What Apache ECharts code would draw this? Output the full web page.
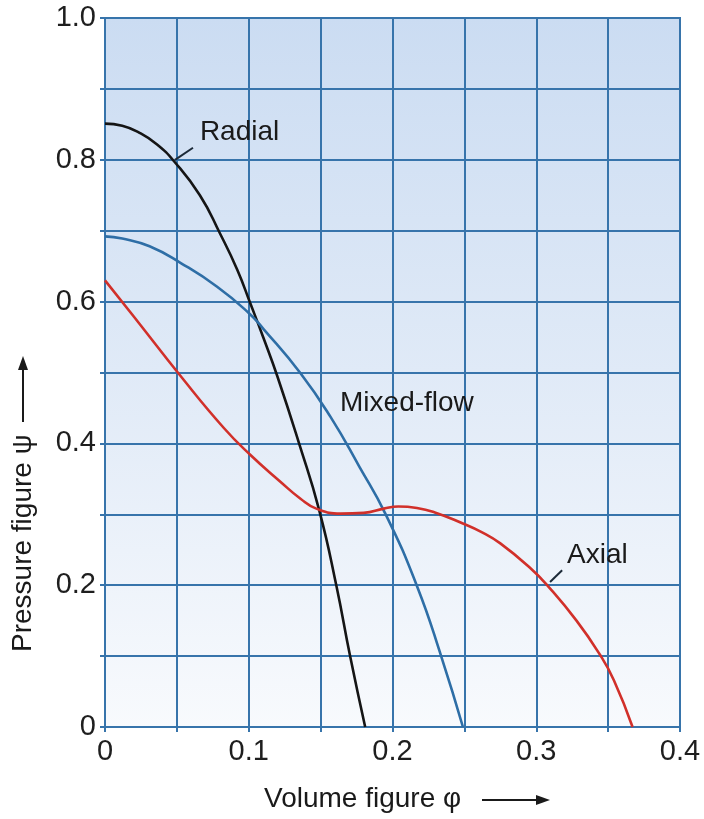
<!DOCTYPE html>
<html>
<head>
<meta charset="utf-8">
<script src="https://cdn.jsdelivr.net/npm/echarts@6/dist/echarts.min.js"></script>
<style>
  html, body { margin: 0; padding: 0; background: #ffffff; }
  #chart { width: 704px; height: 819px; }
</style>
</head>
<body>
<div id="chart"></div>
<script>
// tick labels
const xTickLabels = ['0', '0.1', '0.2', '0.3', '0.4'];
const yTickLabels = ['0', '0.2', '0.4', '0.6', '0.8', '1.0'];

// Radial curve (volume figure, pressure figure)
const radialX = [0, 0.012, 0.024, 0.036, 0.048, 0.066, 0.08, 0.092, 0.101, 0.11, 0.12, 0.135, 0.149, 0.161, 0.1705, 0.181];
const radialY = [0.851, 0.848, 0.838, 0.822, 0.798, 0.75, 0.696, 0.645, 0.598, 0.55, 0.494, 0.4, 0.306, 0.199, 0.1, 0];

// Mixed-flow curve
const mixedX = [0, 0.012, 0.031, 0.053, 0.078, 0.1, 0.11, 0.136, 0.157, 0.177, 0.195, 0.217, 0.234, 0.249];
const mixedY = [0.692, 0.689, 0.678, 0.654, 0.621, 0.584, 0.562, 0.499, 0.437, 0.367, 0.301, 0.199, 0.099, 0];

// Axial curve
const axialX = [0, 0.02, 0.053, 0.083, 0.101, 0.122, 0.136, 0.147, 0.164, 0.18, 0.194, 0.204, 0.217, 0.229,
  0.249, 0.262, 0.275, 0.296, 0.308, 0.328, 0.344, 0.354, 0.367];
const axialY = [0.63, 0.579, 0.494, 0.421, 0.384, 0.346, 0.322, 0.308, 0.301, 0.302, 0.308, 0.311, 0.309, 0.303,
  0.287, 0.275, 0.259, 0.224, 0.199, 0.15, 0.103, 0.066, 0];

const FONT = 'Liberation Sans, Arial, sans-serif';
const gridColor = '#3774ab';

const pairs = (xs, ys) => xs.map((x, i) => [x, ys[i]]);

const chart = echarts.init(document.getElementById('chart'));

// label + short leader line for a curve
const tag = (text, textAt, leader) => ({
  markPoint: {
    symbol: 'circle',
    symbolSize: 0,
    silent: true,
    data: [{ coord: textAt }],
    label: {
      show: true,
      formatter: text,
      position: [0, 0],
      align: 'left',
      verticalAlign: 'middle',
      color: '#1a1a1a',
      fontFamily: FONT,
      fontSize: 28
    }
  },
  markLine: leader ? {
    silent: true,
    symbol: 'none',
    label: { show: false },
    lineStyle: { color: '#1c2a38', width: 2, type: 'solid' },
    data: [[{ coord: leader[0] }, { coord: leader[1] }]]
  } : undefined
});

const line = (name, xs, ys, color, extra) => Object.assign({
  name: name,
  type: 'line',
  data: pairs(xs, ys),
  smooth: 0.5,
  showSymbol: false,
  lineStyle: { color: color, width: 2.6 },
  z: 5
}, extra);

const option = {
  backgroundColor: '#ffffff',
  animation: false,
  grid: {
    left: 105, right: 24, top: 18, bottom: 92,
    show: true,
    backgroundColor: new echarts.graphic.LinearGradient(0, 0, 0, 1, [
      { offset: 0, color: '#cbdcf2' },
      { offset: 0.5, color: '#e0eaf7' },
      { offset: 1, color: '#f8fafd' }
    ]),
    borderColor: gridColor,
    borderWidth: 2
  },
  xAxis: {
    type: 'value',
    min: 0, max: 0.4, interval: 0.05,
    axisLine: { show: true, lineStyle: { color: gridColor, width: 2 } },
    axisTick: { show: true, length: 5, lineStyle: { color: gridColor, width: 2 } },
    splitLine: { show: true, lineStyle: { color: gridColor, width: 2 } },
    axisLabel: {
      margin: 10,
      color: '#1e1e1e',
      fontFamily: FONT,
      fontSize: 29,
      formatter: v => {
        const k = Math.round(v * 20);
        return k % 2 === 0 ? xTickLabels[k / 2] : '';
      }
    }
  },
  yAxis: {
    type: 'value',
    min: 0, max: 1, interval: 0.1,
    axisLine: { show: true, lineStyle: { color: gridColor, width: 2 } },
    axisTick: { show: true, length: 5, lineStyle: { color: gridColor, width: 2 } },
    splitLine: { show: true, lineStyle: { color: gridColor, width: 2 } },
    axisLabel: {
      margin: 9,
      color: '#1e1e1e',
      fontFamily: FONT,
      fontSize: 29,
      formatter: v => {
        const k = Math.round(v * 10);
        return k % 2 === 0 ? yTickLabels[k / 2] : '';
      }
    }
  },
  series: [
    line('Radial', radialX, radialY, '#151515',
      tag('Radial', [0.066, 0.839], [[0.0487, 0.8], [0.0612, 0.817]])),
    line('Mixed-flow', mixedX, mixedY, '#2e6ea6',
      tag('Mixed-flow', [0.1635, 0.457], null)),
    line('Axial', axialX, axialY, '#d1302a',
      tag('Axial', [0.3214, 0.2426], [[0.3096, 0.2045], [0.318, 0.221]]))
  ],
  graphic: [
    // x axis title with arrow
    {
      type: 'text', left: 264, top: 785,
      style: { text: 'Volume figure φ', fill: '#1a1a1a', font: '28px ' + FONT }
    },
    {
      type: 'line', shape: { x1: 482, y1: 800, x2: 538, y2: 800 },
      style: { stroke: '#1a1a1a', lineWidth: 2 }
    },
    {
      type: 'polygon', shape: { points: [[550, 800], [536, 795], [536, 805]] },
      style: { fill: '#1a1a1a' }
    },
    // y axis title with arrow
    {
      type: 'text', x: 9, y: 652, rotation: Math.PI / 2,
      style: { text: 'Pressure figure ψ', fill: '#1a1a1a', font: '28px ' + FONT,
               textVerticalAlign: 'top' }
    },
    {
      type: 'line', shape: { x1: 23, y1: 422, x2: 23, y2: 368 },
      style: { stroke: '#1a1a1a', lineWidth: 2 }
    },
    {
      type: 'polygon', shape: { points: [[23, 356], [18, 370], [28, 370]] },
      style: { fill: '#1a1a1a' }
    }
  ]
};

chart.setOption(option);
</script>
</body>
</html>
